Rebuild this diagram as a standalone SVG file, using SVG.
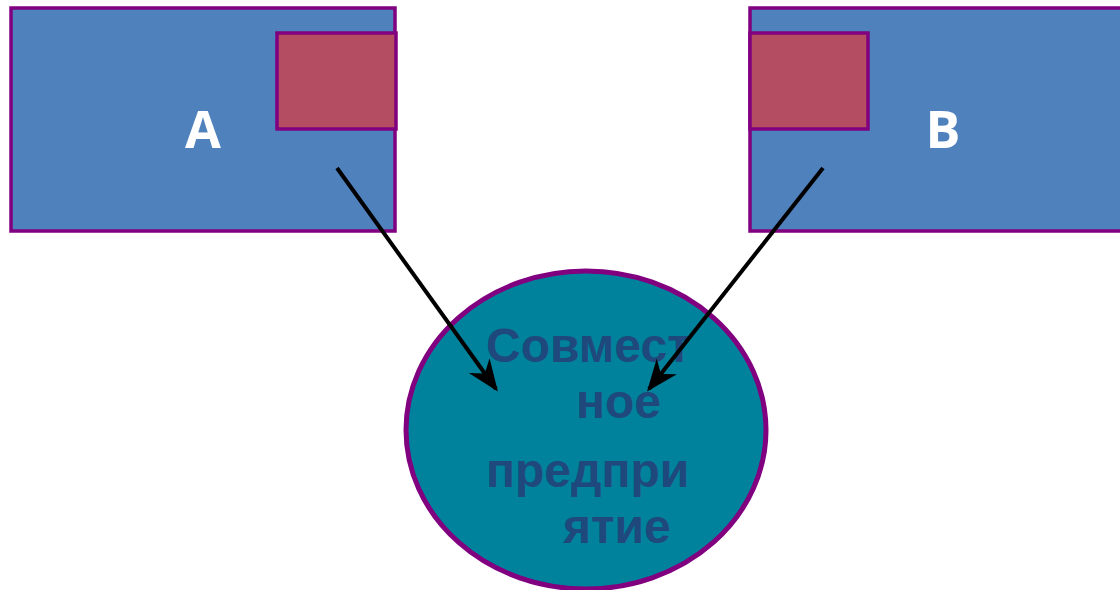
<svg xmlns="http://www.w3.org/2000/svg" width="1120" height="590" viewBox="0 0 1120 590">
<style>
.big{fill:#4F81BD;stroke:#800080;stroke-width:3.5}
.small{fill:#B44C62;stroke:#800080;stroke-width:3.5}
.lbl{font-family:"Open Sans","Liberation Sans",Arial,sans-serif;font-weight:bold;font-size:52px;fill:#fff;text-anchor:middle}
.jv{font-family:"Liberation Sans",Arial,sans-serif;font-weight:bold;font-size:48px;fill:#1F497D}
.conn{stroke:#000;stroke-width:4;fill:none}
</style>
<defs>
<marker id="ah" viewBox="0 0 20 16" refX="18" refY="8" markerWidth="8" markerHeight="7" markerUnits="strokeWidth" orient="auto">
<path d="M0,0 L20,8 L0,16 L6,8 Z" fill="#000"/>
</marker>
</defs>
<g id="nodeA">
<rect class="big" x="11" y="8" width="384" height="223"/>
<rect class="small" x="277" y="33" width="119" height="96"/>
<text class="lbl" x="203" y="148">A</text>
</g>
<g id="nodeB">
<rect class="big" x="750" y="8" width="375" height="223"/>
<rect class="small" x="750" y="33" width="118" height="96"/>
<text class="lbl" x="943" y="148">B</text>
</g>
<g id="jv">
<ellipse cx="586" cy="430" rx="180" ry="159" fill="#00829C" stroke="#800080" stroke-width="5"/>
<text class="jv" x="486" y="362">Совмест</text>
<text class="jv" x="576" y="418">ное</text>
<text class="jv" x="486" y="487">предпри</text>
<text class="jv" x="563" y="543">ятие</text>
</g>
<g id="connectors">
<line class="conn" x1="337" y1="168" x2="496" y2="389" marker-end="url(#ah)"/>
<line class="conn" x1="823" y1="168" x2="649" y2="389" marker-end="url(#ah)"/>
</g>
</svg>
